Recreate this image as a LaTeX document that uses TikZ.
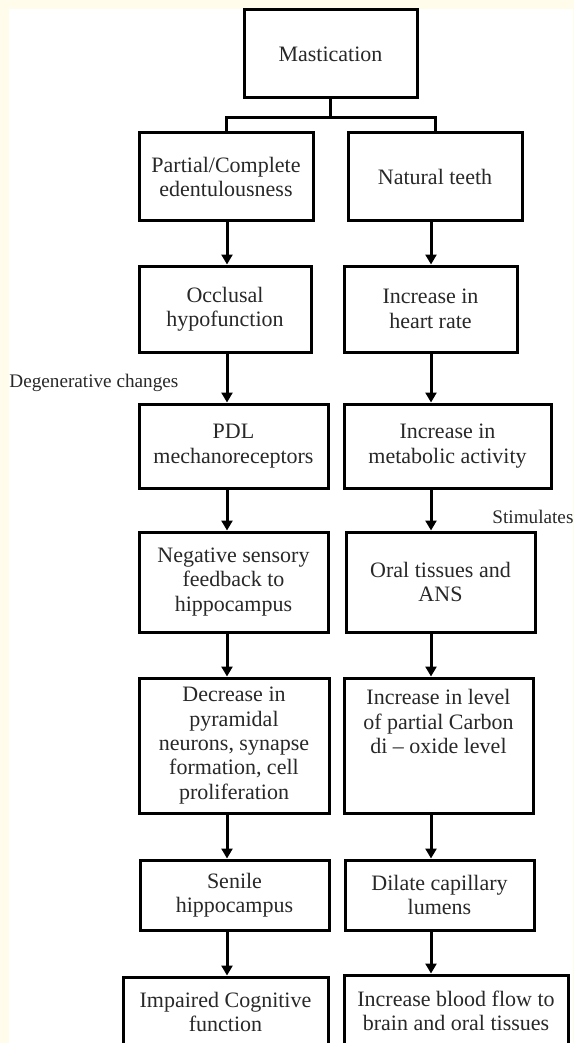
\documentclass[tikz,border=0pt]{standalone}
\usepackage{fontspec}
\setmainfont{Liberation Serif}
\usetikzlibrary{arrows.meta}
\definecolor{cream}{RGB}{255,252,235}
\definecolor{ink}{RGB}{40,40,40}

\begin{document}
\begin{tikzpicture}[x=0.5pt, y=-0.5pt]
    \tikzset{box/.style={draw, line width=1.5pt, align=center, inner sep=2pt, text=ink,
                         font=\fontsize{11}{12.2}\selectfont},
             arr/.style={line width=1.5pt, -{Triangle[width=5.5pt,length=5pt]}},
             link/.style={line width=1.5pt},
             note/.style={anchor=west, inner sep=0pt, text=ink, font=\fontsize{9.6}{11}\selectfont}} %% styles
    \useasboundingbox (0,0) rectangle (574,1043);
    \fill[cream] (0,0) rectangle (574,1043);
    \fill[white] (9,9) rectangle (573,1043);

    \coordinate (lx) at (227,0);
    \coordinate (rx) at (431,0);

    \node[box, minimum width=86.5pt, minimum height=44pt] (mast) at (330.5,54) {Mastication};

    % left column
    \node[box, minimum width=87pt, minimum height=44pt] (edent) at (226,177) {Partial/Complete\\edentulousness};
    \node[box, minimum width=86pt, minimum height=43pt] (occl) at (225,309) {Occlusal\\hypofunction};
    \node[box, minimum width=94.5pt, minimum height=42pt] (pdl) at (233.5,446) {PDL\\mechanoreceptors};
    \node[box, minimum width=94.5pt, minimum height=50pt] (neg) at (233.5,582) {Negative sensory\\feedback to\\hippocampus};
    \node[box, minimum width=95pt, minimum height=67.5pt] (decr) at (234,745.5) {Decrease in\\pyramidal\\neurons, synapse\\formation, cell\\proliferation};
    \node[box, minimum width=94.5pt, minimum height=35pt] (senile) at (234.5,895) {Senile\\hippocampus};
    \node[box, minimum width=102.5pt, minimum height=35pt] (impair) at (225.5,1012) {Impaired Cognitive\\function};

    % right column
    \node[box, minimum width=87pt, minimum height=44pt] (teeth) at (435,177) {Natural teeth};
    \node[box, minimum width=86.5pt, minimum height=43pt] (heart) at (430.5,309) {Increase in\\heart rate};
    \node[box, minimum width=103.5pt, minimum height=42pt] (metab) at (447.5,446) {Increase in\\metabolic activity};
    \node[box, minimum width=94.5pt, minimum height=50pt] (oral) at (440.5,582) {Oral tissues and\\ANS};
    \node[box, minimum width=94.5pt, minimum height=67.5pt, text depth=24pt] (co2) at (438.5,745.5) {Increase in level\\of partial Carbon\\di -- oxide level};
    \node[box, minimum width=94.5pt, minimum height=35pt] (dilate) at (439.5,895) {Dilate capillary\\lumens};
    \node[box, minimum width=112pt, minimum height=36pt] (blood) at (456,1011) {Increase blood flow to\\brain and oral tissues};

    \node[note] (degen) at (9,383) {Degenerative changes};
    \node[note] (stim) at (492,517) {Stimulates};

    \draw[link] (mast.south) -- ++(0,18) coordinate (split) -| (edent.north);
    \draw[link] (split) -| (teeth.north);

    \foreach \a/\b in {edent/occl, occl/pdl, pdl/neg, neg/decr, decr/senile, senile/impair}
        \draw[arr] (\a.south -| lx) -- (\b.north -| lx);
    \foreach \a/\b in {teeth/heart, heart/metab, metab/oral, oral/co2, co2/dilate, dilate/blood}
        \draw[arr] (\a.south -| rx) -- (\b.north -| rx);
\end{tikzpicture}
\end{document}
